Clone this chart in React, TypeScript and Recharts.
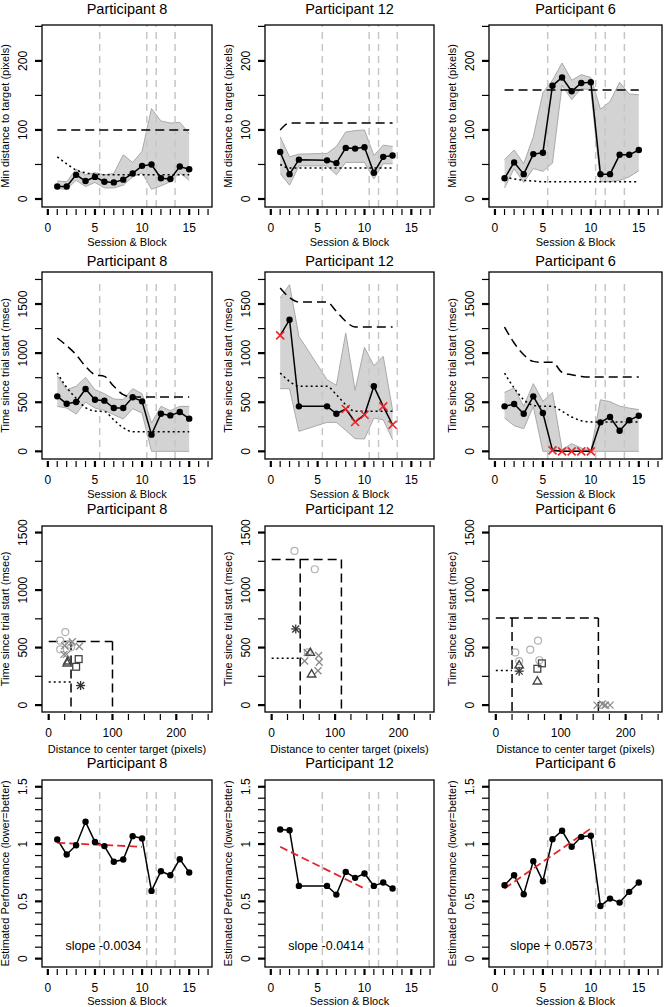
import React from 'react';
import {
  ComposedChart,
  Line,
  Area,
  Scatter,
  XAxis,
  YAxis,
  ReferenceLine,
  ReferenceDot,
} from 'recharts';

const FONT = '"Liberation Sans", Arial, Helvetica, sans-serif';

// dashed grey lines between sessions
const SESSION_BREAKS = [5.5, 10.5, 11.5, 13.5];

const X_TICKS = [0, 1, 2, 3, 4, 5, 6, 7, 8, 9, 10, 11, 12, 13, 14, 15, 16, 17];
const X_LABELS = [0, 5, 10, 15];
const DIST_TICKS = [0, 50, 100, 150, 200, 250];
const DIST_LABELS = [0, 100, 200];
const TIME_TICKS = [0, 250, 500, 750, 1000, 1250, 1500, 1750];
const TIME_LABELS = [0, 500, 1000, 1500];
const SCATTER_X_TICKS = [0, 25, 50, 75, 100, 125, 150, 175, 200, 225, 250];
const SCATTER_X_LABELS = [0, 100, 200];
const PERF_TICKS = [0, 0.1, 0.2, 0.3, 0.4, 0.5, 0.6, 0.7, 0.8, 0.9, 1, 1.1, 1.2, 1.3, 1.4, 1.5];
const PERF_LABELS = [0, 0.5, 1, 1.5];

// marker per phase in the scatter row
const CIRCLE_BLOCKS = [1, 2, 3, 4, 5];
const CROSS_BLOCKS = [6, 7, 8, 9, 10];
const STAR_BLOCKS = [11];
const TRIANGLE_BLOCKS = [12, 13];
const SQUARE_BLOCKS = [14, 15];

const BLOCKS_8 = [1, 2, 3, 4, 5, 6, 7, 8, 9, 10, 11, 12, 13, 14, 15];
const BLOCKS_12 = [1, 2, 3, 6, 7, 8, 9, 10, 11, 12, 13];
const BLOCKS_6 = [1, 2, 3, 4, 5, 6, 7, 8, 9, 10, 11, 12, 13, 14, 15];

// Min distance to target (pixels)
const DIST_8 = [18, 18, 35, 26, 32, 25, 24, 28, 37, 48, 50, 30, 29, 47, 43];
const DIST_LO_8 = [15, 14, 27, 18, 24, 16, 16, 20, 32, 38, 14, 19, 25, 38, 27];
const DIST_HI_8 = [26, 25, 43, 35, 38, 35, 37, 64, 53, 69, 131, 113, 110, 111, 95];
const DIST_DASH_8 = [100, 100, 100, 100, 100, 100, 100, 100, 100, 100, 100, 100, 100, 100, 100];
const DIST_DOT_8 = [61, 51, 42, 38, 36, 35, 35, 35, 35, 35, 35, 35, 35, 35, 35];

const DIST_12 = [68, 36, 57, 56, 52, 74, 73, 75, 38, 61, 63];
const DIST_LO_12 = [37, 20, 48, 48, 35, 53, 53, 53, 29, 51, 51];
const DIST_HI_12 = [90, 61, 65, 66, 76, 97, 99, 100, 63, 78, 76];
const DIST_DASH_12 = [100, 110, 110, 110, 110, 110, 110, 110, 110, 110, 110];
const DIST_DOT_12 = [50, 45, 45, 45, 45, 45, 45, 45, 45, 45, 45];

const DIST_6 = [30, 53, 36, 65, 67, 164, 176, 156, 168, 169, 36, 36, 64, 64, 71];
const DIST_LO_6 = [16, 44, 24, 44, 40, 52, 165, 144, 160, 158, 25, 25, 27, 32, 41];
const DIST_HI_6 = [57, 71, 51, 90, 154, 172, 197, 172, 180, 176, 130, 141, 169, 152, 151];
const DIST_DASH_6 = [158, 158, 158, 158, 158, 158, 158, 158, 158, 158, 158, 158, 158, 158, 158];
const DIST_DOT_6 = [32, 29, 27, 26, 25, 25, 25, 25, 25, 25, 25, 25, 25, 25, 25];

// Time since trial start (msec)
const TIME_8 = [560, 485, 502, 635, 526, 516, 441, 441, 550, 509, 170, 383, 366, 400, 333];
const TIME_LO_8 = [458, 441, 380, 502, 441, 417, 373, 329, 434, 390, 0, 0, 0, 0, 0];
const TIME_HI_8 = [770, 628, 662, 753, 628, 587, 533, 526, 638, 587, 288, 458, 414, 458, 458];
const TIME_DASH_8 = [1154, 1076, 984, 865, 780, 763, 662, 577, 553, 553, 553, 553, 553, 553, 553];
const TIME_DOT_8 = [800, 650, 540, 445, 410, 405, 320, 240, 200, 200, 200, 200, 200, 200, 200];

const TIME_12 = [1181, 1340, 458, 458, 383, 431, 299, 373, 662, 458, 271];
const TIME_LO_12 = [638, 638, 204, 295, 295, 214, 129, 126, 339, 322, 119];
const TIME_HI_12 = [1561, 1697, 1171, 730, 672, 1205, 621, 1059, 872, 967, 420];
const TIME_DASH_12 = [1663, 1565, 1520, 1520, 1425, 1323, 1266, 1266, 1266, 1266, 1266];
const TIME_DOT_12 = [797, 713, 662, 662, 577, 475, 407, 407, 407, 407, 407];

const TIME_6 = [458, 482, 383, 560, 390, 10, 0, 0, 0, 0, 295, 350, 210, 316, 363];
const TIME_LO_6 = [339, 261, 231, 458, 0, 0, 0, 0, 0, 0, 0, 0, 0, 0, 0];
const TIME_HI_6 = [600, 645, 458, 689, 509, 600, 17, 78, 34, 0, 525, 505, 460, 440, 425];
const TIME_DASH_6 = [1266, 1103, 984, 916, 906, 906, 804, 780, 763, 757, 757, 757, 757, 757, 757];
const TIME_DOT_6 = [797, 645, 526, 468, 458, 458, 407, 350, 312, 300, 300, 300, 300, 300, 300];

// blocks drawn as red crosses in the time row
const FLAGGED_8: number[] = [];
const FLAGGED_12 = [1, 8, 9, 10, 12, 13];
const FLAGGED_6 = [6, 7, 8, 9, 10];

// Estimated performance (lower=better)
const PERF_8 = [1.04, 0.909, 0.99, 1.194, 1.019, 0.982, 0.845, 0.865, 1.069, 1.049, 0.591, 0.763, 0.728, 0.868, 0.752];
const PERF_12 = [1.127, 1.121, 0.635, 0.635, 0.559, 0.757, 0.705, 0.743, 0.635, 0.664, 0.612];
const PERF_6 = [0.641, 0.728, 0.562, 0.851, 0.676, 1.043, 1.116, 0.976, 1.063, 1.072, 0.46, 0.524, 0.489, 0.583, 0.664];
const FIT_X = [1, 10];
const FIT_8 = [1.011, 0.976];
const FIT_12 = [0.976, 0.612];
const FIT_6 = [0.612, 1.136];

const PARTICIPANTS = [
  {
    title: 'Participant 8', blocks: BLOCKS_8,
    dist: DIST_8, distLo: DIST_LO_8, distHi: DIST_HI_8, distDash: DIST_DASH_8, distDot: DIST_DOT_8,
    time: TIME_8, timeLo: TIME_LO_8, timeHi: TIME_HI_8, timeDash: TIME_DASH_8, timeDot: TIME_DOT_8,
    flagged: FLAGGED_8, perf: PERF_8, fit: FIT_8, slope: 'slope -0.0034',
  },
  {
    title: 'Participant 12', blocks: BLOCKS_12,
    dist: DIST_12, distLo: DIST_LO_12, distHi: DIST_HI_12, distDash: DIST_DASH_12, distDot: DIST_DOT_12,
    time: TIME_12, timeLo: TIME_LO_12, timeHi: TIME_HI_12, timeDash: TIME_DASH_12, timeDot: TIME_DOT_12,
    flagged: FLAGGED_12, perf: PERF_12, fit: FIT_12, slope: 'slope -0.0414',
  },
  {
    title: 'Participant 6', blocks: BLOCKS_6,
    dist: DIST_6, distLo: DIST_LO_6, distHi: DIST_HI_6, distDash: DIST_DASH_6, distDot: DIST_DOT_6,
    time: TIME_6, timeLo: TIME_LO_6, timeHi: TIME_HI_6, timeDash: TIME_DASH_6, timeDot: TIME_DOT_6,
    flagged: FLAGGED_6, perf: PERF_6, fit: FIT_6, slope: 'slope + 0.0573',
  },
];

type P = (typeof PARTICIPANTS)[number];

// layout: plot boxes in page pixels
const COLS = [
  { left: 42, right: 212 },
  { left: 265, right: 434 },
  { left: 489, right: 662 },
];
const ROWS = [
  { top: 25, bottom: 207, title: 13.5, xTitle: 246 },
  { top: 272, bottom: 459, title: 266, xTitle: 498 },
  { top: 526, bottom: 712, title: 514, xTitle: 752.5 },
  { top: 780, bottom: 967, title: 767.5, xTitle: 1005 },
];
const Y_TITLES = [
  'Min distance to target (pixels)',
  'Time since trial start (msec)',
  'Time since trial start (msec)',
  'Estimated Performance (lower=better)',
];
const X_TITLES = ['Session & Block', 'Session & Block', 'Distance to center target (pixels)', 'Session & Block'];

const SERIES_X: [number, number] = [-0.62, 17.42];
const SCATTER_X: [number, number] = [-10.5, 256];
const DIST_Y: [number, number] = [-11.6, 252];
const TIME_Y: [number, number] = [-78, 1826];
const SCATTER_Y: [number, number] = [-60, 1557];
const PERF_Y: [number, number] = [-0.073, 1.559];

const PAD_L = 44;
const PAD_T = 10;
const PAD_R = 6;
const PAD_B = 45;

const makeXTick = (labels: number[]) => (p: any) => {
  const v = p.payload.value;
  const major = labels.includes(v);
  return (
    <g key={`xt${p.index}`}>
      <line x1={p.x} x2={p.x} y1={p.y + 2} y2={p.y + 8} stroke="#000" strokeWidth={major ? 2.2 : 1.2} />
      {major && (
        <text x={p.x} y={p.y + 25} textAnchor="middle" fontSize={12} fontFamily={FONT} fill="#000">
          {v}
        </text>
      )}
    </g>
  );
};

const makeYTick = (labels: number[]) => (p: any) => {
  const v = p.payload.value;
  const major = labels.includes(v);
  const tx = p.x - 15;
  return (
    <g key={`yt${p.index}`}>
      <line x1={p.x - 7} x2={p.x} y1={p.y} y2={p.y} stroke="#000" strokeWidth={major ? 2.2 : 1.2} />
      {major && (
        <text x={tx} y={p.y} transform={`rotate(-90 ${tx} ${p.y})`} textAnchor="middle" fontSize={12} fontFamily={FONT} fill="#000">
          {v}
        </text>
      )}
    </g>
  );
};

function Frame({ col, row, data, xKey, yKey, xDomain, yDomain, xTicks, xLabels, yTicks, yLabels, children }: any) {
  const c = COLS[col];
  const r = ROWS[row];
  const w = c.right - c.left;
  const h = r.bottom - r.top;
  return (
    <div style={{ position: 'absolute', left: c.left - PAD_L, top: r.top - PAD_T }}>
      <ComposedChart
        width={w + PAD_L + PAD_R}
        height={h + PAD_T + PAD_B}
        data={data}
        margin={{ top: PAD_T, right: PAD_R, bottom: 0, left: 0 }}
      >
        <XAxis
          type="number"
          dataKey={xKey}
          domain={xDomain}
          ticks={xTicks}
          interval={0}
          allowDataOverflow
          axisLine={false}
          tickLine={false}
          tickSize={0}
          tickMargin={0}
          height={PAD_B}
          tick={makeXTick(xLabels)}
        />
        <YAxis
          type="number"
          dataKey={yKey}
          domain={yDomain}
          ticks={yTicks}
          interval={0}
          allowDataOverflow
          axisLine={false}
          tickLine={false}
          tickSize={0}
          tickMargin={0}
          width={PAD_L}
          tick={makeYTick(yLabels)}
        />
        {children}
      </ComposedChart>
    </div>
  );
}

const rows = (p: P) =>
  p.blocks.map((x, i) => ({
    x,
    dist: p.dist[i],
    distBand: [p.distLo[i], p.distHi[i]],
    distDash: p.distDash[i],
    distDot: p.distDot[i],
    time: p.time[i],
    timeBand: [p.timeLo[i], p.timeHi[i]],
    timeDash: p.timeDash[i],
    timeDot: p.timeDot[i],
    perf: p.perf[i],
    flagged: p.flagged.includes(x),
  }));

const breaks = (lo: number, hi: number) =>
  SESSION_BREAKS.map((b) => (
    <ReferenceLine
      key={`b${b}`}
      segment={[{ x: b, y: lo }, { x: b, y: hi }]}
      stroke="#c6c6c6"
      strokeWidth={1.5}
      strokeDasharray="7 5"
      ifOverflow="visible"
    />
  ));

const plainDot = (p: any) => <circle key={`d${p.index}`} cx={p.cx} cy={p.cy} r={3.2} fill="#000" stroke="none" />;
const timeDot = (p: any) =>
  p.payload.flagged ? <g key={`d${p.index}`} /> : <circle key={`d${p.index}`} cx={p.cx} cy={p.cy} r={3.2} fill="#000" stroke="none" />;

const RedCross = (p: any) => (
  <g stroke="#e8262b" strokeWidth={1.6}>
    <line x1={p.cx - 4} y1={p.cy - 4} x2={p.cx + 4} y2={p.cy + 4} />
    <line x1={p.cx - 4} y1={p.cy + 4} x2={p.cx + 4} y2={p.cy - 4} />
  </g>
);
const CircleMark = (p: any) => <circle cx={p.cx} cy={p.cy} r={3.5} fill="none" stroke="#b2b2b2" strokeWidth={1.2} />;
const CrossMark = (p: any) => (
  <g stroke="#8a8a8a" strokeWidth={1.3}>
    <line x1={p.cx - 3.5} y1={p.cy - 3.5} x2={p.cx + 3.5} y2={p.cy + 3.5} />
    <line x1={p.cx - 3.5} y1={p.cy + 3.5} x2={p.cx + 3.5} y2={p.cy - 3.5} />
  </g>
);
const StarMark = (p: any) => (
  <g stroke="#333" strokeWidth={1.3}>
    <line x1={p.cx - 3.5} y1={p.cy - 3.5} x2={p.cx + 3.5} y2={p.cy + 3.5} />
    <line x1={p.cx - 3.5} y1={p.cy + 3.5} x2={p.cx + 3.5} y2={p.cy - 3.5} />
    <line x1={p.cx - 4.5} y1={p.cy} x2={p.cx + 4.5} y2={p.cy} />
    <line x1={p.cx} y1={p.cy - 4.5} x2={p.cx} y2={p.cy + 4.5} />
  </g>
);
const TriangleMark = (p: any) => (
  <polygon
    points={`${p.cx},${p.cy - 4.2} ${p.cx - 4.2},${p.cy + 3} ${p.cx + 4.2},${p.cy + 3}`}
    fill="none"
    stroke="#444"
    strokeWidth={1.4}
  />
);
const SquareMark = (p: any) => (
  <rect x={p.cx - 3.4} y={p.cy - 3.4} width={6.8} height={6.8} fill="none" stroke="#444" strokeWidth={1.3} />
);

function DistancePanel({ p, col }: { p: P; col: number }) {
  return (
    <Frame col={col} row={0} data={rows(p)} xKey="x" xDomain={SERIES_X} yDomain={DIST_Y}
      xTicks={X_TICKS} xLabels={X_LABELS} yTicks={DIST_TICKS} yLabels={DIST_LABELS}>
      <Area type="linear" dataKey="distBand" fill="#d3d3d3" fillOpacity={1} stroke="#a9a9a9" strokeWidth={1}
        dot={false} activeDot={false} isAnimationActive={false} />
      {breaks(DIST_Y[0], DIST_Y[1])}
      <Line type="monotone" dataKey="distDash" stroke="#000" strokeWidth={1.5} strokeDasharray="9 5"
        dot={false} activeDot={false} isAnimationActive={false} />
      <Line type="monotone" dataKey="distDot" stroke="#000" strokeWidth={1.5} strokeDasharray="2 3"
        dot={false} activeDot={false} isAnimationActive={false} />
      <Line type="linear" dataKey="dist" stroke="#000" strokeWidth={1.5} dot={plainDot}
        activeDot={false} isAnimationActive={false} />
    </Frame>
  );
}

function TimePanel({ p, col }: { p: P; col: number }) {
  const data = rows(p);
  const flagged = data.filter((d) => d.flagged);
  return (
    <Frame col={col} row={1} data={data} xKey="x" xDomain={SERIES_X} yDomain={TIME_Y}
      xTicks={X_TICKS} xLabels={X_LABELS} yTicks={TIME_TICKS} yLabels={TIME_LABELS}>
      <Area type="linear" dataKey="timeBand" fill="#d3d3d3" fillOpacity={1} stroke="#a9a9a9" strokeWidth={1}
        dot={false} activeDot={false} isAnimationActive={false} />
      {breaks(TIME_Y[0], 1710)}
      <Line type="monotone" dataKey="timeDash" stroke="#000" strokeWidth={1.5} strokeDasharray="9 5"
        dot={false} activeDot={false} isAnimationActive={false} />
      <Line type="monotone" dataKey="timeDot" stroke="#000" strokeWidth={1.5} strokeDasharray="2 3"
        dot={false} activeDot={false} isAnimationActive={false} />
      <Line type="linear" dataKey="time" stroke="#000" strokeWidth={1.5} dot={timeDot}
        activeDot={false} isAnimationActive={false} />
      {flagged.length > 0 && (
        <Scatter data={flagged} dataKey="time" shape={RedCross} isAnimationActive={false} />
      )}
    </Frame>
  );
}

function ScatterPanel({ p, col }: { p: P; col: number }) {
  const pick = (blocks: number[]) =>
    p.blocks
      .map((b, i) => ({ b, d: p.dist[i], t: p.time[i] }))
      .filter((r) => blocks.includes(r.b));
  const dDash = p.distDash[p.distDash.length - 1];
  const dDot = p.distDot[p.distDot.length - 1];
  const tDash = p.timeDash[p.timeDash.length - 1];
  const tDot = p.timeDot[p.timeDot.length - 1];
  const lo = SCATTER_Y[0];
  const groups = [
    { blocks: CIRCLE_BLOCKS, shape: CircleMark },
    { blocks: CROSS_BLOCKS, shape: CrossMark },
    { blocks: STAR_BLOCKS, shape: StarMark },
    { blocks: TRIANGLE_BLOCKS, shape: TriangleMark },
    { blocks: SQUARE_BLOCKS, shape: SquareMark },
  ]
    .map((g) => ({ ...g, pts: pick(g.blocks) }))
    .filter((g) => g.pts.length > 0);
  return (
    <Frame col={col} row={2} xKey="d" yKey="t" xDomain={SCATTER_X} yDomain={SCATTER_Y}
      xTicks={SCATTER_X_TICKS} xLabels={SCATTER_X_LABELS} yTicks={TIME_TICKS.slice(0, 7)} yLabels={TIME_LABELS}>
      <ReferenceLine segment={[{ x: 0, y: tDash }, { x: dDash, y: tDash }]} stroke="#000" strokeWidth={1.5} strokeDasharray="9 5" ifOverflow="visible" />
      <ReferenceLine segment={[{ x: dDash, y: tDash }, { x: dDash, y: lo }]} stroke="#000" strokeWidth={1.5} strokeDasharray="9 5" ifOverflow="visible" />
      <ReferenceLine segment={[{ x: dDot, y: tDash }, { x: dDot, y: lo }]} stroke="#000" strokeWidth={1.5} strokeDasharray="9 5" ifOverflow="visible" />
      <ReferenceLine segment={[{ x: 0, y: tDot }, { x: dDot, y: tDot }]} stroke="#000" strokeWidth={1.5} strokeDasharray="2 3" ifOverflow="visible" />
      {groups.map((g, i) => (
        <Scatter key={`g${i}`} data={g.pts} shape={g.shape} isAnimationActive={false} />
      ))}
    </Frame>
  );
}

function PerfPanel({ p, col }: { p: P; col: number }) {
  return (
    <Frame col={col} row={3} data={rows(p)} xKey="x" xDomain={SERIES_X} yDomain={PERF_Y}
      xTicks={X_TICKS} xLabels={X_LABELS} yTicks={PERF_TICKS} yLabels={PERF_LABELS}>
      {breaks(PERF_Y[0], 1.47)}
      <Line type="linear" dataKey="perf" stroke="#000" strokeWidth={1.5} dot={plainDot}
        activeDot={false} isAnimationActive={false} />
      <ReferenceLine
        segment={[{ x: FIT_X[0], y: p.fit[0] }, { x: FIT_X[1], y: p.fit[1] }]}
        stroke="#e3262b"
        strokeWidth={1.8}
        strokeDasharray="8 4"
        ifOverflow="visible"
      />
      <ReferenceDot x={5.9} y={0.11} r={0} fill="none" stroke="none" ifOverflow="visible"
        label={{ value: p.slope, position: 'center', fontSize: 12.5, fill: '#000', fontFamily: FONT }} />
    </Frame>
  );
}

function Overlay() {
  return (
    <svg width={664} height={1007} style={{ position: 'absolute', left: 0, top: 0, pointerEvents: 'none' }}>
      {ROWS.map((r, ri) =>
        COLS.map((c, ci) => {
          const cx = (c.left + c.right) / 2;
          const cy = (r.top + r.bottom) / 2;
          const yx = c.left - 33;
          return (
            <g key={`${ri}-${ci}`} fontFamily={FONT} fill="#000">
              <rect x={c.left} y={r.top} width={c.right - c.left} height={r.bottom - r.top} fill="none" stroke="#000" strokeWidth={1.3} />
              <text x={cx} y={r.title} textAnchor="middle" fontSize={14.5}>
                {PARTICIPANTS[ci].title}
              </text>
              <text x={cx} y={r.xTitle} textAnchor="middle" fontSize={11}>
                {X_TITLES[ri]}
              </text>
              <text x={yx} y={cy} transform={`rotate(-90 ${yx} ${cy})`} textAnchor="middle" fontSize={11}>
                {Y_TITLES[ri]}
              </text>
            </g>
          );
        }),
      )}
    </svg>
  );
}

export default function App() {
  return (
    <div
      style={{
        position: 'absolute',
        left: 0,
        top: 0,
        width: 664,
        height: 1007,
        overflow: 'hidden',
        background: '#fff',
        fontFamily: FONT,
      }}
    >
      {PARTICIPANTS.map((p, col) => (
        <React.Fragment key={p.title}>
          <DistancePanel p={p} col={col} />
          <TimePanel p={p} col={col} />
          <ScatterPanel p={p} col={col} />
          <PerfPanel p={p} col={col} />
        </React.Fragment>
      ))}
      <Overlay />
    </div>
  );
}
